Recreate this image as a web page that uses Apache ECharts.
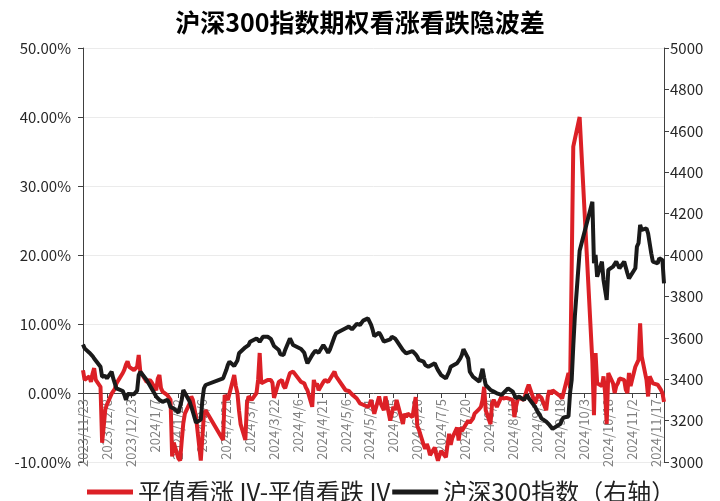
<!DOCTYPE html>
<html>
<head>
<meta charset="utf-8">
<title>沪深300指数期权看涨看跌隐波差</title>
<script src="https://cdn.jsdelivr.net/npm/echarts@6/dist/echarts.min.js"></script>
<style>html,body{margin:0;padding:0;background:#fff;}</style>
</head>
<body>
<div id="main" style="width:720px;height:501px;"></div>
<script>
// 交易日
var dates = [
  '2023-11-23','2023-11-24','2023-11-27','2023-11-28','2023-11-29','2023-11-30',
  '2023-12-01','2023-12-04','2023-12-05','2023-12-06','2023-12-07','2023-12-08','2023-12-11','2023-12-12','2023-12-13','2023-12-14','2023-12-15','2023-12-18','2023-12-19','2023-12-20','2023-12-21','2023-12-22','2023-12-25','2023-12-26','2023-12-27','2023-12-28','2023-12-29',
  '2024-01-02','2024-01-03','2024-01-04','2024-01-05','2024-01-08','2024-01-09','2024-01-10','2024-01-11','2024-01-12','2024-01-15','2024-01-16','2024-01-17','2024-01-18','2024-01-19','2024-01-22','2024-01-23','2024-01-24','2024-01-25','2024-01-26','2024-01-29','2024-01-30','2024-01-31',
  '2024-02-01','2024-02-02','2024-02-05','2024-02-06','2024-02-07','2024-02-08','2024-02-19','2024-02-20','2024-02-21','2024-02-22','2024-02-23','2024-02-26','2024-02-27','2024-02-28','2024-02-29',
  '2024-03-01','2024-03-04','2024-03-05','2024-03-06','2024-03-07','2024-03-08','2024-03-11','2024-03-12','2024-03-13','2024-03-14','2024-03-15','2024-03-18','2024-03-19','2024-03-20','2024-03-21','2024-03-22','2024-03-25','2024-03-26','2024-03-27','2024-03-28','2024-03-29',
  '2024-04-01','2024-04-02','2024-04-03','2024-04-08','2024-04-09','2024-04-10','2024-04-11','2024-04-12','2024-04-15','2024-04-16','2024-04-17','2024-04-18','2024-04-19','2024-04-22','2024-04-23','2024-04-24','2024-04-25','2024-04-26','2024-04-29','2024-04-30',
  '2024-05-06','2024-05-07','2024-05-08','2024-05-09','2024-05-10','2024-05-13','2024-05-14','2024-05-15','2024-05-16','2024-05-17','2024-05-20','2024-05-21','2024-05-22','2024-05-23','2024-05-24','2024-05-27','2024-05-28','2024-05-29','2024-05-30','2024-05-31',
  '2024-06-03','2024-06-04','2024-06-05','2024-06-06','2024-06-07','2024-06-11','2024-06-12','2024-06-13','2024-06-14','2024-06-17','2024-06-18','2024-06-19','2024-06-20','2024-06-21','2024-06-24','2024-06-25','2024-06-26','2024-06-27','2024-06-28',
  '2024-07-01','2024-07-02','2024-07-03','2024-07-04','2024-07-05','2024-07-08','2024-07-09','2024-07-10','2024-07-11','2024-07-12','2024-07-15','2024-07-16','2024-07-17','2024-07-18','2024-07-19','2024-07-22','2024-07-23','2024-07-24','2024-07-25','2024-07-26','2024-07-29','2024-07-30','2024-07-31',
  '2024-08-01','2024-08-02','2024-08-05','2024-08-06','2024-08-07','2024-08-08','2024-08-09','2024-08-12','2024-08-13','2024-08-14','2024-08-15','2024-08-16','2024-08-19','2024-08-20','2024-08-21','2024-08-22','2024-08-23','2024-08-26','2024-08-27','2024-08-28','2024-08-29','2024-08-30',
  '2024-09-02','2024-09-03','2024-09-04','2024-09-05','2024-09-06','2024-09-09','2024-09-10','2024-09-11','2024-09-12','2024-09-13','2024-09-18','2024-09-19','2024-09-20','2024-09-23','2024-09-24','2024-09-25','2024-09-26','2024-09-27','2024-09-30',
  '2024-10-08','2024-10-09','2024-10-10','2024-10-11','2024-10-14','2024-10-15','2024-10-16','2024-10-17','2024-10-18','2024-10-21','2024-10-22','2024-10-23','2024-10-24','2024-10-25','2024-10-28','2024-10-29','2024-10-30','2024-10-31',
  '2024-11-01','2024-11-04','2024-11-05','2024-11-06','2024-11-07','2024-11-08','2024-11-11','2024-11-12','2024-11-13','2024-11-14','2024-11-15','2024-11-18','2024-11-19','2024-11-20','2024-11-21','2024-11-22'
];

// 平值看涨IV - 平值看跌IV（%）
var ivSpread = [
  3.3, 1.9, 2.4, 1.6, 2.8, 3.6,
  1.9, 0.9, -7.2, -4.9, -2.4, -1.7, -0.1, -0.1, 0.6, 1.4, 1.4, 2.9, 3.4, 4.1, 4.6, 3.8, 3.3, 3.3, 3.8, 5.5, 3.1,
  1.6, 1.4, 1.9, 1.6, 0.4, 2.1, 2.6, 0.7, 0.2, -0.3, -0.5, -1.0, -9.2, -7.2, -9.5, -9.8, -7.0, -4.4, -3.0, -1.5, -0.5, -1.0,
  -0.8, -3.5, -9.8, -10.0, -3.0, -2.5, -6.8, -0.3, -0.5, -1.0, -1.2, 2.6, 1.0, 0.0, -2.5,
  -4.5, -6.8, -1.5, -0.5, -0.6, -1.0, 0.0, 1.9, 5.8, 1.4, 1.2, 1.9, 1.7, 1.9, 1.5, -0.7, 1.6, 1.4, 1.9, 1.0, 0.7,
  2.9, 3.1, 3.1, 1.6, 1.5, 1.4, 0.8, 0.4, -2.0, 1.9, 1.0, 1.4, 0.4, 1.6, 1.9, 1.8, 1.6, 1.7, 3.1, 2.4,
  0.4, 0.4, 0.3, 0.4, -0.2, -0.8, -1.0, -1.5, -1.6, -1.7, -2.0, -1.7, -1.0, -2.0, -3.0, -0.5, -1.5, -2.0, -2.5, -0.5,
  -4.0, -3.0, -2.0, -2.5, -1.0, -4.5, -3.0, -3.5, -3.0, -3.5, -2.0, -0.6, -4.8, -5.3, -7.5, -8.1, -7.4, -8.0, -9.0,
  -7.9, -9.0, -9.8, -9.0, -8.4, -9.3, -7.5, -5.9, -7.5, -6.5, -5.0, -6.9, -5.0, -5.5, -5.6, -4.0, -4.3, -4.5, -3.7, -3.0, -2.3, -2.0, -1.0,
  0.9, -2.5, -4.5, -1.5, -1.0, -1.2, -2.0, -0.5, -0.8, -1.0, -0.7, -0.5, -1.0, -3.5, -2.0, -1.0, -0.7, -1.0, -0.2, 0.6, 1.2, 1.0,
  -1.5, -0.8, -0.3, -0.1, -0.7, -2.5, -0.5, 0.4, -0.2, 0.4, -0.5, -0.8, -1.0, 2.9, 0.7, 0.8, 35.7, 36.8, 40.0,
  4.5, -3.2, 5.8, 1.4, 1.0, 2.4, 0.0, -4.5, 2.9, 1.4, 0.0, 1.0, 1.4, 2.1, 1.9, 0.5, 0.0, 2.9,
  1.0, 3.8, 4.3, 4.8, 10.1, 5.3, 1.9, -0.5, 2.4, 2.2, 1.4, 1.2, 1.0, 0.5, 0.0, -1.3
];

// 沪深300指数（右轴）
var csi300 = [
  3568, 3549, 3528, 3520, 3512, 3500,
  3493, 3460, 3412, 3420, 3416, 3404, 3436, 3404, 3380, 3356, 3351, 3343, 3324, 3300, 3328, 3337, 3327, 3332, 3345, 3420, 3436,
  3396, 3383, 3370, 3361, 3316, 3308, 3300, 3296, 3291, 3300, 3288, 3265, 3267, 3259, 3238, 3243, 3300, 3348, 3340, 3292, 3267, 3243,
  3235, 3190, 3205, 3300, 3356, 3372, 3404, 3412, 3444, 3469, 3485, 3464, 3460, 3490, 3525,
  3533, 3554, 3549, 3565, 3581, 3576, 3597, 3592, 3581, 3592, 3605, 3605, 3600, 3595, 3578, 3560, 3541, 3520, 3512, 3517, 3541,
  3597, 3581, 3565, 3546, 3541, 3528, 3500, 3477, 3517, 3528, 3538, 3541, 3528, 3565, 3557, 3541, 3528, 3541, 3605, 3622,
  3646, 3646, 3654, 3651, 3641, 3667, 3670, 3662, 3667, 3683, 3694, 3686, 3662, 3638, 3608, 3625, 3613, 3597, 3581, 3586,
  3592, 3605, 3613, 3597, 3586, 3541, 3538, 3525, 3533, 3536, 3528, 3520, 3509, 3493, 3485, 3469, 3460, 3460, 3469,
  3477, 3460, 3444, 3436, 3420, 3404, 3412, 3436, 3460, 3469, 3477, 3485, 3500, 3517, 3545, 3500, 3436, 3428, 3412, 3408, 3388, 3396, 3450,
  3408, 3372, 3348, 3345, 3340, 3332, 3332, 3324, 3332, 3340, 3348, 3356, 3340, 3332, 3308, 3308, 3316, 3300, 3308, 3324, 3308, 3300,
  3267, 3251, 3238, 3227, 3211, 3195, 3187, 3179, 3171, 3160, 3185, 3205, 3215, 3220, 3335, 3396, 3560, 3705, 4020,
  4257, 3960, 4000, 3895, 3968, 3879, 3831, 3783, 3928, 3944, 3952, 3968, 3976, 3936, 3968, 3960, 3912, 3887,
  3887, 3936, 4041, 4057, 4145, 4121, 4129, 4105, 4113, 4008, 3968, 3960, 3984, 3992, 3976, 3863
];

var startDate = '2023-11-23';
var endDate = '2024-11-22';
var DAY = 86400000;

function dayOf(d) {
  return (Date.parse(d) - Date.parse(startDate)) / DAY;
}
function dateLabel(v) {
  var t = new Date(Date.parse(startDate) + v * DAY);
  return t.getUTCFullYear() + '/' + (t.getUTCMonth() + 1) + '/' + t.getUTCDate();
}

var font = 'Noto Sans CJK SC';
var myChart = echarts.init(document.getElementById('main'));

// 网格：上48，下39；左轴0点 = 高度的5/6处，x轴上移到0线
var gridTop = 48, gridBottom = 39;
var plotH = 501 - gridTop - gridBottom;
var zeroShift = plotH * 10 / 60;

myChart.setOption({
  backgroundColor: '#fff',
  animation: false,
  textStyle: { fontFamily: font },
  title: {
    text: '沪深300指数期权看涨看跌隐波差',
    left: 'center',
    top: 5,
    textStyle: { fontFamily: font, fontSize: 25, fontWeight: 'bold', color: '#000' }
  },
  legend: {
    top: 475,
    left: 82,
    icon: 'rect',
    itemWidth: 46,
    itemHeight: 5,
    itemGap: 2,
    textStyle: { fontFamily: font, fontSize: 24, color: '#222' },
    data: ['平值看涨 IV-平值看跌 IV', '沪深300指数（右轴）']
  },
  grid: { left: 83, right: 56, top: gridTop, bottom: gridBottom, outerBoundsMode: 'none', containLabel: false },
  xAxis: {
    type: 'value',
    min: 0,
    max: dayOf(endDate),
    interval: 15,
    offset: -zeroShift,
    axisLine: { onZero: false, lineStyle: { color: '#404040', width: 1 } },
    axisTick: { show: true, length: 5, lineStyle: { color: '#404040' } },
    axisLabel: {
      rotate: 90,
      color: '#7f7f7f',
      fontSize: 13,
      margin: 6,
      showMaxLabel: false,
      formatter: dateLabel
    },
    splitLine: { show: false }
  },
  yAxis: [
    {
      type: 'value',
      position: 'left',
      min: -10,
      max: 50,
      interval: 10,
      axisLine: { show: true, lineStyle: { color: '#404040' } },
      axisTick: { show: true, length: 5, lineStyle: { color: '#404040' } },
      axisLabel: { color: '#262626', fontSize: 15, margin: 12, formatter: function (v) { return v.toFixed(2) + '%'; } },
      splitLine: { show: true, lineStyle: { color: '#ebebeb', width: 1 } }
    },
    {
      type: 'value',
      position: 'right',
      min: 3000,
      max: 5000,
      interval: 200,
      axisLine: { show: true, lineStyle: { color: '#404040' } },
      axisTick: { show: true, length: 5, lineStyle: { color: '#404040' } },
      axisLabel: { color: '#262626', fontSize: 15, margin: 6, formatter: function (v) { return String(v); } },
      splitLine: { show: false }
    }
  ],
  series: [
    {
      name: '平值看涨 IV-平值看跌 IV',
      type: 'line',
      yAxisIndex: 0,
      showSymbol: false,
      lineStyle: { color: '#dc2026', width: 4 },
      itemStyle: { color: '#dc2026' },
      data: dates.map(function (d, i) { return [dayOf(d), ivSpread[i]]; })
    },
    {
      name: '沪深300指数（右轴）',
      type: 'line',
      yAxisIndex: 1,
      showSymbol: false,
      lineStyle: { color: '#1a1a1a', width: 4 },
      itemStyle: { color: '#1a1a1a' },
      data: dates.map(function (d, i) { return [dayOf(d), csi300[i]]; })
    }
  ]
});
</script>
</body>
</html>
